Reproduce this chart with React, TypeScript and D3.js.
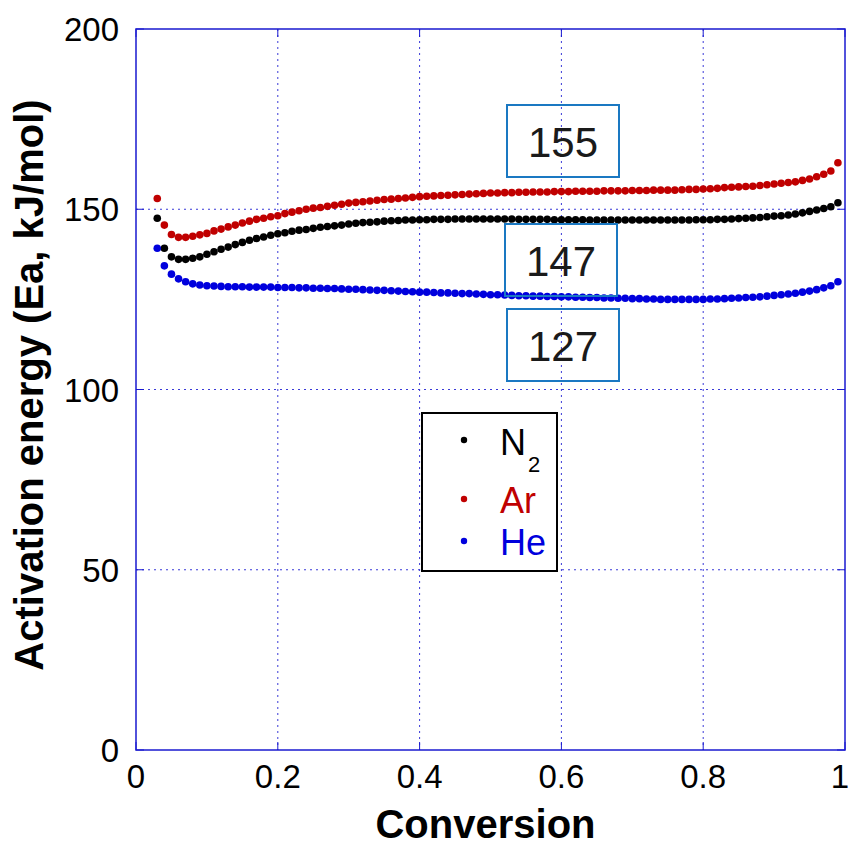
import React from "react";
import * as d3 from "d3";

const conversion = [0.03,0.04,0.05,0.06,0.07,0.08,0.09,0.10,0.11,0.12,0.13,0.14,0.15,0.16,0.17,0.18,0.19,0.20,0.21,0.22,0.23,0.24,0.25,0.26,0.27,0.28,0.29,0.30,0.31,0.32,0.33,0.34,0.35,0.36,0.37,0.38,0.39,0.40,0.41,0.42,0.43,0.44,0.45,0.46,0.47,0.48,0.49,0.50,0.51,0.52,0.53,0.54,0.55,0.56,0.57,0.58,0.59,0.60,0.61,0.62,0.63,0.64,0.65,0.66,0.67,0.68,0.69,0.70,0.71,0.72,0.73,0.74,0.75,0.76,0.77,0.78,0.79,0.80,0.81,0.82,0.83,0.84,0.85,0.86,0.87,0.88,0.89,0.90,0.91,0.92,0.93,0.94,0.95,0.96,0.97,0.98,0.99];

const eaAr = [153.0,145.6,143.0,142.2,142.2,142.5,142.9,143.3,144.0,144.5,145.1,145.6,146.2,146.7,147.2,147.5,147.9,148.2,148.8,149.2,149.6,150.0,150.3,150.5,150.8,151.1,151.4,151.7,151.9,152.1,152.3,152.5,152.7,152.8,153.0,153.1,153.3,153.5,153.6,153.7,153.8,153.9,154.0,154.1,154.2,154.3,154.4,154.5,154.5,154.6,154.6,154.7,154.7,154.8,154.8,154.8,154.9,154.9,154.9,155.0,155.0,155.0,155.0,155.1,155.1,155.1,155.1,155.2,155.2,155.2,155.3,155.3,155.3,155.3,155.4,155.5,155.5,155.6,155.7,155.8,156.0,156.1,156.2,156.3,156.4,156.6,156.8,157.0,157.2,157.4,157.6,158.0,158.4,159.0,159.7,160.6,162.9];

const eaN2 = [147.5,139.2,136.8,136.1,136.1,136.4,136.8,137.5,138.2,138.9,139.5,140.2,140.8,141.4,141.9,142.3,142.8,143.2,143.5,143.9,144.2,144.4,144.7,145.0,145.2,145.4,145.6,145.9,146.1,146.3,146.4,146.5,146.7,146.8,146.9,147.0,147.0,147.1,147.1,147.2,147.2,147.2,147.3,147.3,147.3,147.3,147.3,147.3,147.3,147.3,147.3,147.2,147.2,147.2,147.2,147.2,147.1,147.1,147.1,147.1,147.1,147.0,147.0,147.0,147.0,147.0,147.0,147.0,147.0,147.0,147.0,147.0,147.0,147.0,147.0,147.0,147.1,147.1,147.1,147.2,147.2,147.3,147.4,147.5,147.6,147.7,147.9,148.1,148.2,148.4,148.7,149.0,149.4,149.8,150.2,150.7,151.8];

const eaHe = [139.2,134.3,132.0,130.7,129.9,129.3,129.0,128.8,128.7,128.6,128.5,128.5,128.5,128.4,128.4,128.4,128.4,128.3,128.3,128.3,128.2,128.2,128.1,128.1,128.0,128.0,127.9,127.8,127.8,127.7,127.6,127.5,127.5,127.4,127.3,127.2,127.1,127.0,127.0,126.9,126.8,126.8,126.7,126.6,126.6,126.5,126.4,126.3,126.3,126.2,126.1,126.0,126.0,125.9,125.9,125.8,125.8,125.7,125.7,125.6,125.6,125.5,125.5,125.4,125.4,125.3,125.3,125.2,125.2,125.1,125.1,125.0,125.0,125.0,125.0,125.0,125.0,125.0,125.1,125.1,125.2,125.3,125.4,125.5,125.6,125.7,125.9,126.1,126.3,126.5,126.7,127.0,127.3,127.7,128.2,128.8,129.9];

const xTicks = [0, 0.2, 0.4, 0.6, 0.8, 1];
const xTickLabels = ["0", "0.2", "0.4", "0.6", "0.8", "1"];
const yTicks = [0, 50, 100, 150, 200];
const yTickLabels = ["0", "50", "100", "150", "200"];

const seriesNames = ["N2", "Ar", "He"];
const seriesColors = ["#000000", "#c00000", "#0000dd"];
const seriesValues = [eaN2, eaAr, eaHe];

const boxLabels = ["155", "147", "127"];

export default function App() {
  const W = 850, H = 845;
  const left = 136, right = 845, top = 29, bottom = 750;
  const x = d3.scaleLinear().domain([0, 1]).range([left, right]);
  const y = d3.scaleLinear().domain([0, 200]).range([bottom, top]);
  const font = "Liberation Sans, Arial, Helvetica, sans-serif";
  const gridColor = "#3a3ad8";
  const axisColor = "#1a1ad0";

  const boxes = [
    { x0: 507, y0: 105, w: 112, h: 72 },
    { x0: 505, y0: 224, w: 112, h: 72 },
    { x0: 507, y0: 309, w: 112, h: 72 },
  ];

  return (
    <svg width={W} height={H} style={{ position: "absolute", left: 0, top: 0, background: "#fff" }}>
      <rect x={0} y={0} width={W} height={H} fill="#fff" />
      {xTicks.slice(1, -1).map((t) => (
        <line key={"gx" + t} x1={x(t)} x2={x(t)} y1={top} y2={bottom} stroke={gridColor} strokeWidth={1} strokeDasharray="2,4" />
      ))}
      {yTicks.slice(1, -1).map((t) => (
        <line key={"gy" + t} x1={left} x2={right} y1={y(t)} y2={y(t)} stroke={gridColor} strokeWidth={1} strokeDasharray="2,4" />
      ))}
      {xTicks.map((t) => (
        <g key={"tx" + t}>
          <line x1={x(t)} x2={x(t)} y1={bottom} y2={bottom - 8} stroke={axisColor} strokeWidth={1} />
          <line x1={x(t)} x2={x(t)} y1={top} y2={top + 8} stroke={axisColor} strokeWidth={1} />
        </g>
      ))}
      {yTicks.map((t) => (
        <g key={"ty" + t}>
          <line x1={left} x2={left + 8} y1={y(t)} y2={y(t)} stroke={axisColor} strokeWidth={1} />
          <line x1={right} x2={right - 8} y1={y(t)} y2={y(t)} stroke={axisColor} strokeWidth={1} />
        </g>
      ))}
      <rect x={left} y={top} width={right - left} height={bottom - top} fill="none" stroke={axisColor} strokeWidth={1.5} />

      {seriesValues.map((vals, si) => (
        <g key={"s" + si} fill={seriesColors[si]}>
          {vals.map((v, i) => (
            <circle key={i} cx={x(conversion[i])} cy={y(v)} r={3.8} />
          ))}
        </g>
      ))}

      {boxes.map((b, i) => (
        <g key={"b" + i}>
          <rect x={b.x0} y={b.y0} width={b.w} height={b.h} fill="none" stroke="#1a78c2" strokeWidth={2} />
          <text x={b.x0 + b.w / 2} y={b.y0 + b.h / 2 + 16} textAnchor="middle" fontFamily={font} fontSize={42} fill="#1a1a1a">
            {boxLabels[i]}
          </text>
        </g>
      ))}

      <rect x={422} y={413} width={135} height={158} fill="#fff" stroke="#000" strokeWidth={2} />
      {seriesNames.map((name, i) => {
        const cy = [440, 499, 541][i];
        const base = [455, 513, 555][i];
        return (
          <g key={"l" + i}>
            <circle cx={464} cy={cy} r={3.2} fill={seriesColors[i]} />
            {name === "N2" ? (
              <text x={500} y={base} fontFamily={font} fontSize={36} fill={seriesColors[i]}>
                N
                <tspan fontSize={22} dx={2} dy={17}>2</tspan>
              </text>
            ) : (
              <text x={500} y={base} fontFamily={font} fontSize={36} fill={seriesColors[i]}>
                {name}
              </text>
            )}
          </g>
        );
      })}

      {xTicks.map((t, i) => (
        <text key={"xl" + t} x={Math.min(x(t), 840)} y={788} textAnchor="middle" fontFamily={font} fontSize={33} fill="#000">
          {xTickLabels[i]}
        </text>
      ))}
      {yTicks.map((t, i) => (
        <text key={"yl" + t} x={119} y={y(t) + 12} textAnchor="end" fontFamily={font} fontSize={33} fill="#000">
          {yTickLabels[i]}
        </text>
      ))}

      <text x={(left + right) / 2 - 5} y={838} textAnchor="middle" fontFamily={font} fontSize={40} fontWeight="bold" fill="#000">
        Conversion
      </text>
      <text transform={`translate(43, ${385}) rotate(-90)`} textAnchor="middle" fontFamily={font} fontSize={40} fontWeight="bold" fill="#000">
        Activation energy (Ea, kJ/mol)
      </text>
    </svg>
  );
}
